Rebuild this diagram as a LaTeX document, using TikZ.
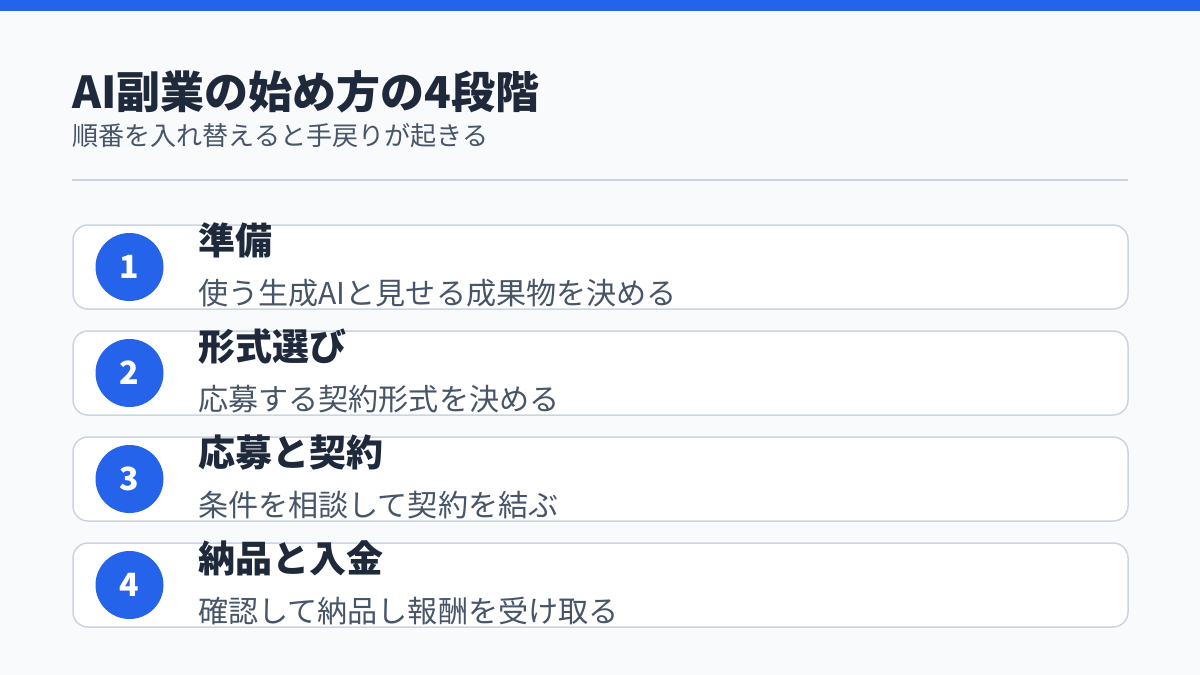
\documentclass[tikz,border=0pt]{standalone}
\usepackage{fontspec}
\setmainfont{Noto Sans CJK JP}
\usetikzlibrary{positioning}

\definecolor{pagebg}{HTML}{F8FAFC}
\definecolor{accent}{HTML}{2563EB}
\definecolor{ink}{HTML}{1E293B}
\definecolor{subink}{HTML}{475569}
\definecolor{rim}{HTML}{CBD5E1}

\tikzset{
    card/.style={draw=rim, line width=1.5pt, fill=white, rounded corners=15pt},
    badge/.style={circle, fill=accent, minimum size=68pt, inner sep=0pt,
        text=white, font=\fontsize{32}{36}\selectfont\bfseries},
    headtext/.style={anchor=base west, inner sep=0pt, text=ink,
        font=\fontsize{37}{44}\selectfont\bfseries},
    desctext/.style={anchor=base west, inner sep=0pt, text=subink,
        font=\fontsize{30.1}{36}\selectfont}
}

\begin{document}
\begin{tikzpicture}[x=1pt, y=-1pt]
\useasboundingbox (0, 0) rectangle (1200, 675);
\fill[pagebg] (0, 0) rectangle (1200, 675);
\fill[accent] (0, 0) rectangle (1200, 11);

\node[anchor=base west, inner sep=0pt, text=ink,
    font=\fontsize{44}{52}\selectfont\bfseries] (title) at (72, 108)
    {AI副業の始め方の4段階};
\node[anchor=base west, inner sep=0pt, text=subink,
    font=\fontsize{26.1}{30}\selectfont] (subtitle) at (72, 145)
    {順番を入れ替えると手戻りが起きる};
\draw[rim, line width=1.5pt] (72, 180) -- (1128, 180);

% 1
\draw[card] (73, 225) rectangle (1128, 309);
\node[badge] (n1) at (129.5, 267) {1};
\node[headtext] (h1) at (198, 254) {準備};
\node[desctext] (d1) at (198, 304) {使う生成AIと見せる成果物を決める};

% 2
\draw[card] (73, 331) rectangle (1128, 415);
\node[badge] (n2) at (129.5, 373) {2};
\node[headtext] (h2) at (198, 360) {形式選び};
\node[desctext] (d2) at (198, 410) {応募する契約形式を決める};

% 3
\draw[card] (73, 437) rectangle (1128, 521);
\node[badge] (n3) at (129.5, 479) {3};
\node[headtext] (h3) at (198, 466) {応募と契約};
\node[desctext] (d3) at (198, 516) {条件を相談して契約を結ぶ};

% 4
\draw[card] (73, 543) rectangle (1128, 627);
\node[badge] (n4) at (129.5, 585) {4};
\node[headtext] (h4) at (198, 572) {納品と入金};
\node[desctext] (d4) at (198, 622) {確認して納品し報酬を受け取る};
\end{tikzpicture}
\end{document}
